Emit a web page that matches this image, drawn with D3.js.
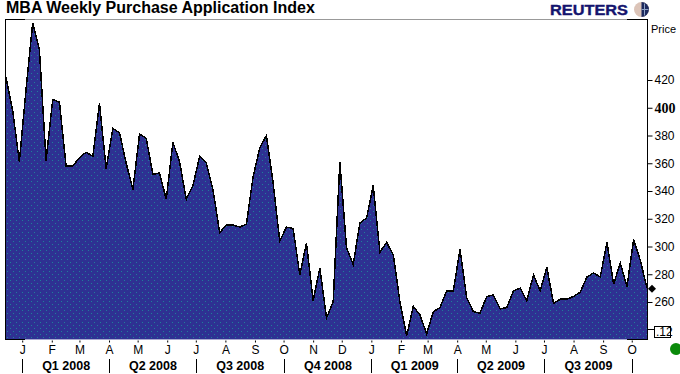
<!DOCTYPE html>
<html lang="en">
<head>
<meta charset="utf-8">
<title>MBA Weekly Purchase Application Index</title>
<script src="https://d3js.org/d3.v7.min.js"></script>
<style>
  html, body { margin: 0; padding: 0; background: #fff; overflow: hidden; }
  text { font-family: "Liberation Sans", Arial, sans-serif; fill: #000; }
</style>
</head>
<body>
<svg width="680" height="374"></svg>
<script>
// weekly index
var values = [422,398,361,413,461,442,362,406,404,358,358,364,368,365,403,356,385,382,360,341,
  381,378,352,353,334,375,361,334,344,365,360,341,310,315.5,315.5,314,316,350,371,380,
  346,304,314,313,279.5,302.5,261,284.5,248.5,260,361,299,287,317,320.5,344,296,303,294,260,
  235.5,257,250.6,237,253,256,268,268,298,263,253,252,264,265,255,256,268,270,261,279.5,
  268,285,259,262,262,264,267,278,281,278,303,273,288,271,305,290,270];
var firstWeek = new Date(2007, 11, 15);
var priceTicks = [420,400,380,360,340,320,300,280,260];
var monthStarts = ["2008-01","2008-02","2008-03","2008-04","2008-05","2008-06","2008-07","2008-08","2008-09","2008-10","2008-11","2008-12",
  "2009-01","2009-02","2009-03","2009-04","2009-05","2009-06","2009-07","2009-08","2009-09","2009-10"];
var monthLabels = ["J","F","M","A","M","J","J","A","S","O","N","D","J","F","M","A","M","J","J","A","S","O"];
var quarterStarts = ["2008-01","2008-04","2008-07","2008-10","2009-01","2009-04","2009-07","2009-10"];
var quarterLabels = ["Q1 2008","Q2 2008","Q3 2008","Q4 2008","Q1 2009","Q2 2009","Q3 2009"];
var lastPrice = 269.5;

var parseMonth = d3.timeParse("%Y-%m");
var months = monthStarts.map(parseMonth);
var quarters = quarterStarts.map(parseMonth);
var weeks = values.map(function(d, i) { return d3.timeDay.offset(firstWeek, i * 7); });

var svg = d3.select("svg");
var bottom = 339, right = 647;

var x = d3.scaleTime().domain([weeks[0], weeks[weeks.length - 1]]).range([6, right]);
var y = d3.scaleLinear().domain([260, 420]).range([302, 80]);

// dotted fill like the original gif
var pat = svg.append("defs").append("pattern")
  .attr("id", "dots").attr("width", 6).attr("height", 6)
  .attr("patternUnits", "userSpaceOnUse");
pat.append("rect").attr("width", 6).attr("height", 6).attr("fill", "#2e3192");
pat.append("rect").attr("x", 1).attr("y", 1).attr("width", 1).attr("height", 1).attr("fill", "#1f7f9a");
pat.append("rect").attr("x", 4).attr("y", 4).attr("width", 1).attr("height", 1).attr("fill", "#1f7f9a");

var area = d3.area()
  .x(function(d, i) { return x(weeks[i]); })
  .y0(bottom)
  .y1(function(d) { return y(d); });
var line = d3.line()
  .x(function(d, i) { return x(weeks[i]); })
  .y(function(d) { return y(d); });

svg.append("path").datum(values).attr("d", area).attr("fill", "url(#dots)").attr("shape-rendering", "crispEdges");
svg.append("path").datum(values).attr("d", line)
  .attr("fill", "none").attr("stroke", "#000").attr("stroke-width", 1.5).attr("shape-rendering", "crispEdges");

// frame: grey with black corners
function seg(x1, y1, x2, y2, col, w) {
  svg.append("line").attr("x1", x1).attr("y1", y1).attr("x2", x2).attr("y2", y2)
    .attr("stroke", col).attr("stroke-width", w);
}
seg(6, 19.5, 645, 19.5, "#999", 1);
seg(25, 339.5, 627, 339.5, "#a9a9d0", 1);
seg(5, 19.5, 25, 19.5, "#000", 1);
seg(627, 19.5, right, 19.5, "#000", 1);
seg(5, 339.5, 25, 339.5, "#000", 1);
seg(627, 339.5, right, 339.5, "#000", 1);
seg(5.5, 19, 5.5, 340, "#000", 1);

// right axis
var yAxis = d3.axisRight(y).tickValues(priceTicks).tickSize(5).tickPadding(2);
var gy = svg.append("g").attr("transform", "translate(" + (right + 0.5) + ",0)").call(yAxis);
gy.select(".domain").remove();
gy.selectAll("line").attr("stroke", "#000");
gy.selectAll("text").attr("font-size", 12);
gy.selectAll(".tick").filter(function(d) { return d === 400; }).select("text")
  .style("font-family", '"Liberation Serif", serif').attr("font-weight", "bold").attr("font-size", 14);
seg(right + 0.5, 19, right + 0.5, 340, "#000", 1);

svg.append("text").attr("x", 651).attr("y", 33).attr("font-size", 11).text("Price");

// last value marker
svg.append("path").attr("d", d3.symbol(d3.symbolSquare, 32)())
  .attr("transform", "translate(652," + y(lastPrice) + ") rotate(45)")
  .attr("fill", "#000");

// volume scale box
seg(648, 329.5, 654, 329.5, "#000", 1);
svg.append("rect").attr("x", 654.5).attr("y", 326.5).attr("width", 16).attr("height", 11)
  .attr("fill", "#fff").attr("stroke", "#000");
svg.append("text").attr("x", 656).attr("y", 336).attr("font-size", 12).text(".12");

// months
var monthAxis = d3.axisBottom(x).tickValues(months).tickSize(2).tickPadding(3)
  .tickFormat(function(d, i) { return monthLabels[i]; });
var gm = svg.append("g").attr("transform", "translate(0,340.5)").call(monthAxis);
gm.select(".domain").remove();
gm.selectAll("line").attr("stroke", "#000");
gm.selectAll("text").attr("font-size", 12);

// quarters
var gq = svg.append("g");
gq.selectAll("line").data(quarters).enter().append("line")
  .attr("x1", function(d) { return Math.round(x(d)) + 0.5; })
  .attr("x2", function(d) { return Math.round(x(d)) + 0.5; })
  .attr("y1", 359).attr("y2", 373).attr("stroke", "#000");
gq.selectAll("text").data(quarterLabels).enter().append("text")
  .attr("x", function(d, i) { return (x(quarters[i]) + x(quarters[i + 1])) / 2 + 0.5; })
  .attr("y", 370).attr("text-anchor", "middle")
  .attr("font-size", 12.5).attr("font-weight", "bold").text(function(d) { return d; });

// status dot
svg.append("circle").attr("cx", 676).attr("cy", 349).attr("r", 6).attr("fill", "#0a8a0a");

// title and logo
svg.append("text").attr("x", 6).attr("y", 13).attr("font-size", 16).attr("font-weight", "bold").text("MBA Weekly Purchase Application Index");
svg.append("text").attr("x", 550).attr("y", 15).attr("font-size", 15.5).attr("font-weight", "bold")
  .attr("textLength", 78).attr("lengthAdjust", "spacingAndGlyphs")
  .style("fill", "#14146e").attr("stroke", "#14146e").attr("stroke-width", 0.4).text("REUTERS");
var globe = svg.append("g").attr("transform", "translate(641.5,9.5)");
globe.append("circle").attr("r", 7.5).attr("fill", "#dcc4b8");
globe.append("path").attr("d", d3.arc()({ innerRadius: 0, outerRadius: 7.5, startAngle: 0, endAngle: Math.PI })).attr("fill", "#1d2a5e");
globe.append("line").attr("x1", 3).attr("x2", 3).attr("y1", -6).attr("y2", 6).attr("stroke", "#8fa3c8");
globe.append("line").attr("x1", 0).attr("x2", 7).attr("y1", 0).attr("y2", 0).attr("stroke", "#8fa3c8");
</script>
</body>
</html>
